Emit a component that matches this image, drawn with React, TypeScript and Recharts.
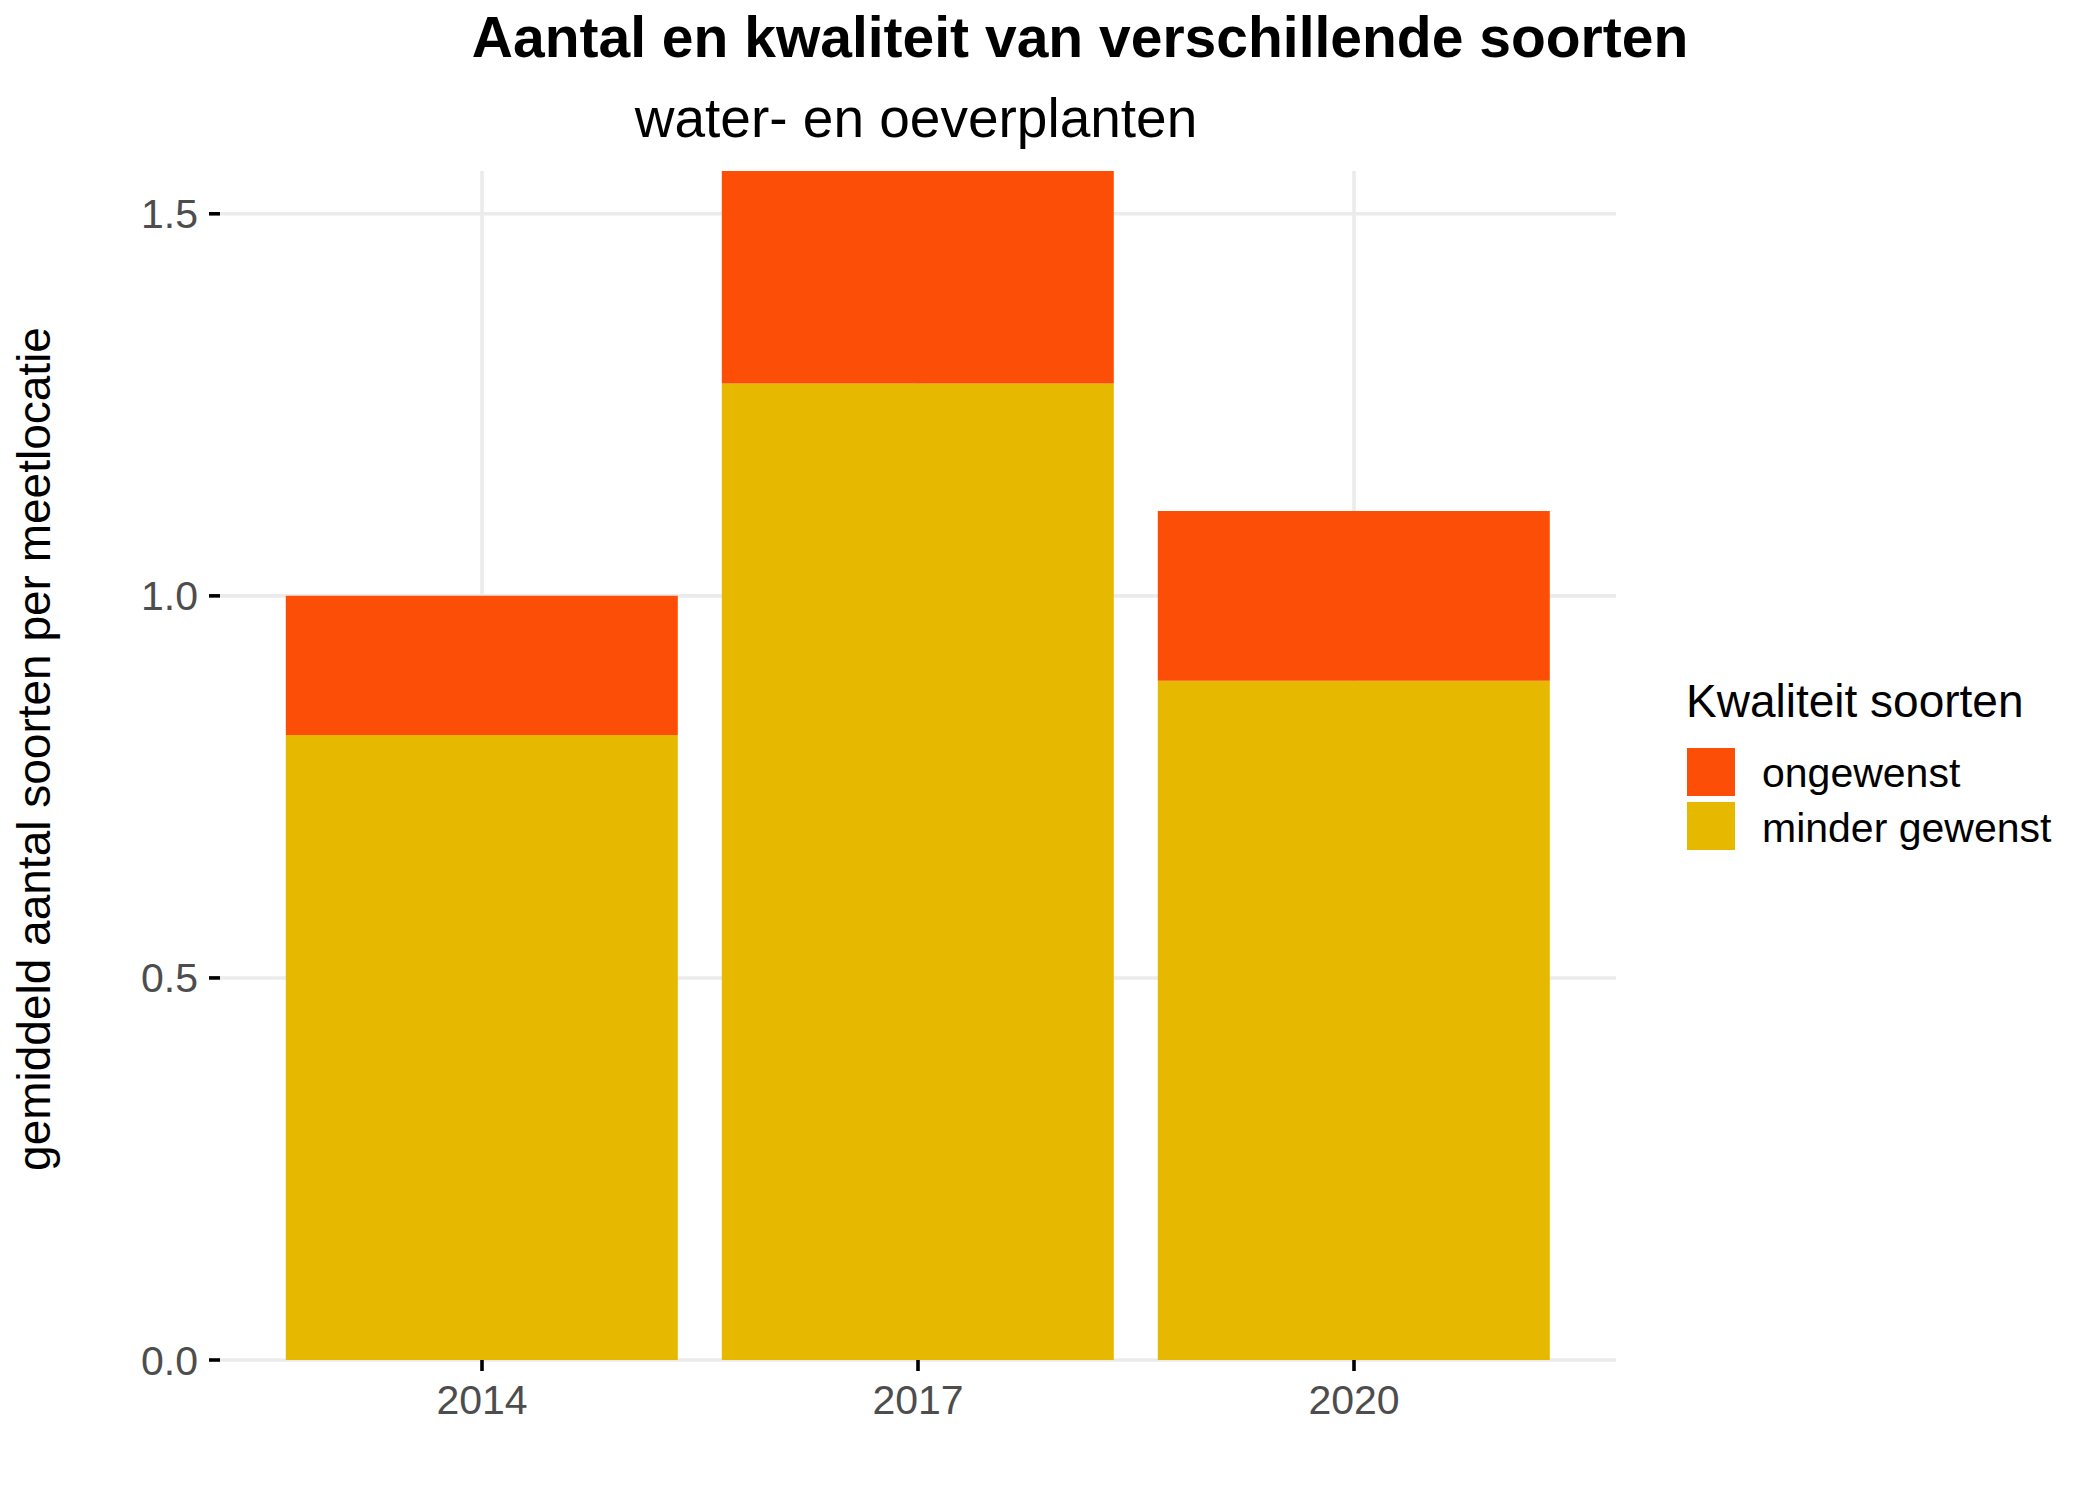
import React from 'react';
import { BarChart, Bar, XAxis, YAxis, CartesianGrid } from 'recharts';

const years = ['2014', '2017', '2020'];
const minderGewenst = [0.818, 1.278, 0.889];
const ongewenst = [0.182, 0.278, 0.222];
const yTicks = [0, 0.5, 1.0, 1.5];
const yMinorTicks = [0.25, 0.75, 1.25];

const legendTitle = 'Kwaliteit soorten';
const legendItems = [
  { name: 'ongewenst', color: '#FC4E07' },
  { name: 'minder gewenst', color: '#E7B800' },
];

const title = 'Aantal en kwaliteit van verschillende soorten';
const subtitle = 'water- en oeverplanten';
const yLabel = 'gemiddeld aantal soorten per meetlocatie';

const data = years.map((y, i) => ({
  year: y,
  minder: minderGewenst[i],
  ongewenst: ongewenst[i],
}));
const yMax = Math.max(...years.map((_, i) => minderGewenst[i] + ongewenst[i]));

const FONT = '"Liberation Sans", Arial, sans-serif';
const GRID = '#EBEBEB';

export default function App() {
  return (
    <div style={{ position: 'absolute', left: 0, top: 0, width: 2100, height: 1500, background: '#fff', fontFamily: FONT }}>
      <BarChart
        width={2100}
        height={1500}
        data={data}
        margin={{ top: 171, right: 484, bottom: 80, left: 120 }}
        barCategoryGap="5%"
        style={{ fontFamily: FONT }}
      >
        <CartesianGrid yAxisId="minor" vertical={false} stroke={GRID} strokeWidth={1.8} syncWithTicks />
        <CartesianGrid stroke={GRID} strokeWidth={3.6} syncWithTicks />
        <XAxis
          dataKey="year"
          tickSize={11}
          tickMargin={14}
          axisLine={false}
          tickLine={{ stroke: '#000', strokeWidth: 3.6 }}
          tick={{ fill: '#4D4D4D', fontSize: 41, fontFamily: FONT }}
          padding={{ left: 44, right: 44 }}
          height={60}
        />
        <YAxis
          domain={[0, yMax]}
          ticks={yTicks}
          interval={0}
          tickFormatter={(v: number) => v.toFixed(1)}
          tickSize={11}
          tickMargin={11}
          axisLine={false}
          tickLine={{ stroke: '#000', strokeWidth: 3.6 }}
          tick={{ fill: '#4D4D4D', fontSize: 41, fontFamily: FONT }}
          width={100}
        />
        <YAxis yAxisId="minor" hide domain={[0, yMax]} ticks={yMinorTicks} interval={0} />
        <Bar dataKey="minder" stackId="a" fill="#E7B800" isAnimationActive={false} />
        <Bar dataKey="ongewenst" stackId="a" fill="#FC4E07" isAnimationActive={false} />
      </BarChart>
      <svg width={2100} height={1500} style={{ position: 'absolute', left: 0, top: 0, pointerEvents: 'none' }} fontFamily={FONT}>
        <text x={1080} y={57} textAnchor="middle" fontSize={57} fontWeight="bold" fill="#000">{title}</text>
        <text x={916} y={137} textAnchor="middle" fontSize={55} fill="#000">{subtitle}</text>
        <text x={50} y={749} textAnchor="middle" fontSize={46} fill="#000" transform="rotate(-90, 50, 749)">{yLabel}</text>
        <text x={1686} y={717} fontSize={46} fill="#000">{legendTitle}</text>
        {legendItems.map((it, i) => (
          <g key={it.name}>
            <rect x={1687} y={748 + i * 54} width={48} height={48} fill={it.color} />
            <text x={1762} y={787 + i * 55} fontSize={41} fill="#000">{it.name}</text>
          </g>
        ))}
      </svg>
    </div>
  );
}
